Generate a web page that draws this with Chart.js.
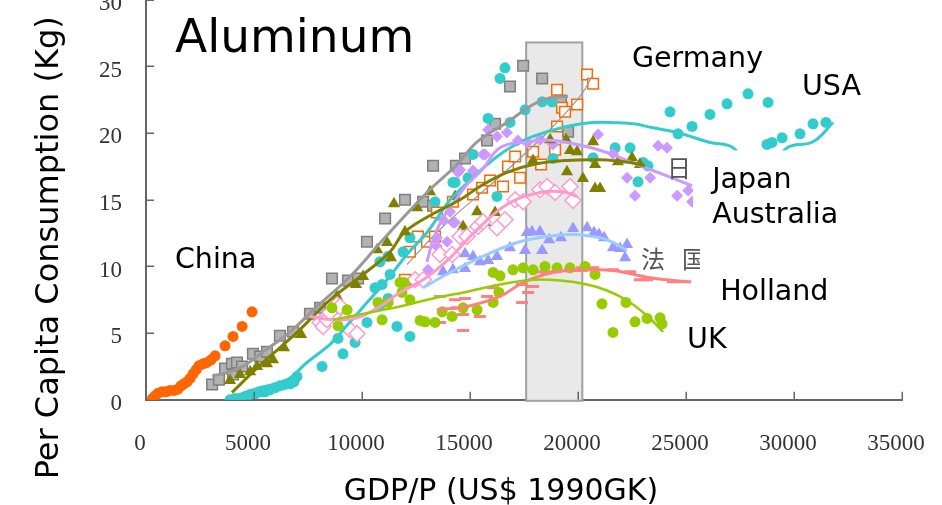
<!DOCTYPE html>
<html>
<head>
<meta charset="utf-8">
<script src="https://cdn.jsdelivr.net/npm/chart.js@4/dist/chart.umd.min.js"></script>
<style>
  html, body { margin: 0; padding: 0; background: #fff; overflow: hidden; }
  #wrap { position: relative; width: 942px; height: 505px; overflow: hidden; background: #fff; }
  #c { position: absolute; left: 0; top: 0; }
</style>
</head>
<body>
<div id="wrap"><canvas id="c" width="942" height="560"></canvas></div>
<script>
// ---- axis ticks ----
const gdpTicks = [0, 5000, 10000, 15000, 20000, 25000, 30000, 35000];
const kgTicks = [0, 5, 10, 15, 20, 25, 30];

// ---- shaded GDP band ----
const bandGdp = [17600, 20200];
const bandKg = [0, 26.8];

// ---- China ----
const chinaGdp = [300, 420, 560, 740, 930, 1110, 1300, 1480, 1620, 1760, 1900, 2040, 2180, 2320, 2450, 2640, 2820, 3010, 3200, 3660, 4030, 4450, 4910];
const chinaKg  = [0.1, 0.3, 0.5, 0.6, 0.6, 0.7, 0.7, 0.8, 1.05, 1.2, 1.35, 1.6, 1.95, 2.25, 2.55, 2.7, 2.8, 3.0, 3.3, 4.05, 4.75, 5.5, 6.6];

// ---- Germany (grey squares) ----
const gerGdp = [3060, 3380, 3660, 3980, 4030, 4210, 4450, 4950, 5280, 5600, 6200, 6810, 7590, 8060, 8610, 9350, 9820, 10230, 11070, 11990, 12830, 13290, 13290, 14350, 14770, 15790, 16160, 16850, 17460, 18340, 19210, 19540];
const gerKg  = [1.15, 1.5, 2.35, 2.7, 1.9, 2.8, 2.5, 3.45, 3.25, 3.6, 4.8, 5.1, 6.45, 6.9, 9.1, 8.95, 9.1, 11.85, 13.6, 15.0, 14.85, 14.55, 17.55, 17.55, 18.1, 19.45, 20.7, 23.5, 25.05, 24.1, 22.45, 20.1];
const gerFitGdp = [3060, 4350, 5420, 6670, 7920, 9450, 10970, 13010, 14400, 15330, 16710, 17920, 18710, 19540];
const gerFitKg  = [1.75, 2.4, 3.6, 5.1, 7.0, 9.25, 12.0, 15.55, 17.65, 19.35, 20.8, 22.15, 22.65, 22.75];

// ---- open orange squares ----
const sqGdp = [11990, 12220, 12590, 13010, 13380, 13470, 14210, 15140, 15560, 15930, 16530, 16760, 17090, 17320, 17920, 18290, 18940, 19030, 19030, 19260, 19400, 19960, 20420, 20700];
const sqKg  = [9.0, 11.1, 12.25, 11.85, 12.25, 14.05, 14.85, 15.4, 15.9, 16.45, 16.0, 17.5, 18.25, 16.65, 18.6, 17.65, 18.75, 20.5, 23.25, 21.9, 21.6, 22.15, 24.4, 23.7];
const sqFitGdp = [12080, 13750, 16390, 18570, 20090, 20700];
const sqFitKg  = [10.15, 13.0, 16.75, 20.05, 22.75, 24.4];

// ---- USA ----
const usaGdp = [3890, 4120, 4350, 4580, 4820, 5050, 5280, 5510, 5740, 5970, 6200, 6440, 6670, 6850, 6990, 8150, 8890, 9120, 9680, 10230, 10600, 10830, 10930, 10830, 11210, 11210, 11300, 11620, 11900, 12220, 12220, 13380, 14210, 14310, 14910, 15140, 15840, 16250, 16390, 16620, 16850, 17550, 18340, 18340, 18800, 18840, 20700, 21720, 22410, 22780, 23010, 23240, 24260, 24630, 25280, 26110, 26900, 27870, 28800, 28750, 28980, 29450, 30280, 30880, 31480];
const usaKg  = [0, 0.1, 0.1, 0.25, 0.4, 0.45, 0.6, 0.6, 0.75, 0.9, 1.05, 1.15, 1.2, 1.35, 1.75, 2.5, 4.6, 3.45, 4.3, 5.8, 8.4, 7.05, 8.65, 10.35, 7.6, 10.75, 9.4, 5.5, 11.1, 12.15, 4.75, 14.85, 16.3, 16.3, 16.65, 18.4, 21.1, 15.25, 24.1, 24.9, 20.8, 21.75, 22.35, 15.85, 22.35, 18.1, 18.15, 18.9, 18.9, 16.35, 17.8, 17.55, 21.6, 19.95, 20.5, 21.4, 22.2, 22.95, 22.3, 19.15, 19.3, 19.65, 19.95, 20.7, 20.8];
const usaFitGdp = [3890, 5280, 6530, 7450, 8520, 9210, 9910, 11160, 12080, 13010, 14080, 14770, 15700, 16710, 17920, 19490, 20700, 22550, 23470, 24590, 26110, 27180, 28430, 29680, 30880, 31810];
const usaFitKg  = [0.15, 0.9, 1.5, 2.8, 4.15, 5.4, 6.7, 9.0, 10.9, 12.55, 15.0, 16.1, 17.5, 18.75, 19.75, 20.5, 20.8, 20.7, 20.4, 20.05, 19.3, 18.9, 16.5, 18.9, 19.35, 20.8];

// ---- Japan ----
const japGdp = [13060, 13470, 13470, 13750, 13940, 14080, 14210, 14310, 14450, 14540, 15140, 15600, 15700, 15840, 16250, 16710, 17220, 17640, 18240, 18840, 20930, 21620, 22270, 22640, 23340, 23710, 24120, 24590, 25100, 25280];
const japKg  = [9.75, 11.5, 12.15, 13.5, 11.85, 14.1, 13.3, 13.3, 17.05, 17.25, 17.2, 18.4, 18.4, 20.25, 19.75, 20.05, 19.45, 19.3, 19.5, 19.15, 19.9, 18.45, 16.65, 15.3, 16.65, 19.05, 18.9, 15.3, 15.7, 14.85];
const japFitGdp = [13010, 13290, 13750, 14400, 14860, 15560, 16390, 17640, 18840, 20230, 21340, 22410, 23200, 24120, 25280];
const japFitKg  = [10.35, 12.0, 13.65, 15.15, 16.15, 17.25, 18.9, 19.35, 19.45, 19.05, 18.55, 17.85, 17.35, 16.8, 16.05];

// ---- Australia ----
const ausGdp = [3890, 4350, 4820, 5140, 5600, 5880, 6390, 7180, 8840, 9720, 10050, 10700, 11160, 11340, 11990, 11480, 12550, 13150, 14310, 14680, 15330, 15700, 16160, 17920, 18710, 19450, 19630, 19960, 19490, 20230, 20700, 20790, 20790, 21020, 21850, 22500, 22870];
const ausKg  = [1.45, 1.9, 2.1, 2.5, 2.7, 3.0, 3.9, 4.9, 7.75, 8.65, 9.25, 11.25, 11.8, 10.65, 12.6, 14.7, 14.4, 15.6, 15.25, 13.0, 14.1, 13.3, 14.05, 17.95, 19.5, 19.5, 18.7, 18.6, 17.1, 16.6, 19.35, 17.65, 15.85, 15.85, 17.85, 18.15, 17.65];
const ausFitGdp = [3980, 5420, 6990, 8520, 10050, 11300, 11950, 13290, 14540, 15460, 16710, 17920, 19490, 21020, 22410, 23100];
const ausFitKg  = [0.55, 2.8, 5.05, 7.5, 9.4, 11.1, 12.55, 13.95, 15.0, 16.0, 17.05, 17.65, 17.95, 18.0, 17.8, 17.55];

// ---- open pink diamonds ----
const pinkGdp = [8060, 8200, 8380, 8520, 8840, 8980, 9210, 9450, 9770, 12460, 12830, 13610, 14170, 14540, 14860, 15370, 15600, 16250, 16620, 17090, 17460, 18240, 18570, 18940, 19630, 19770];
const pinkKg  = [5.8, 5.5, 6.0, 6.55, 7.15, 7.0, 6.0, 5.25, 4.95, 9.0, 9.0, 10.9, 10.9, 12.25, 12.25, 13.0, 13.35, 12.9, 13.5, 15.0, 14.85, 15.75, 16.0, 15.55, 16.0, 14.95];
const pinkFitGdp = [7590, 8660, 9770, 10830, 11760, 12830, 14080, 15230, 16710, 18240, 19310, 19960];
const pinkFitKg  = [6.25, 6.0, 6.15, 7.0, 8.05, 9.0, 10.65, 12.6, 14.65, 15.55, 15.6, 15.25];

// ---- France ----
const fraGdp = [13750, 14210, 14770, 14770, 15140, 15460, 15840, 16250, 16850, 17550, 17640, 17870, 18240, 18340, 18660, 19210, 19770, 20420, 20740, 20970, 21210, 21620, 21950, 22270, 22180];
const fraKg  = [9.6, 9.75, 9.85, 10.95, 10.75, 10.35, 10.45, 10.75, 11.4, 11.2, 12.55, 12.6, 12.6, 11.2, 12.0, 12.15, 12.85, 12.9, 12.55, 12.4, 12.15, 11.4, 11.35, 11.65, 10.65];
const fraFitGdp = [12830, 14080, 15600, 17180, 18570, 19770, 21020, 21620, 22270];
const fraFitKg  = [8.4, 9.55, 10.75, 11.8, 12.25, 12.4, 12.15, 11.8, 11.2];

// ---- Holland ----
const holGdp = [13610, 13610, 14310, 14400, 14770, 14680, 14680, 15460, 15790, 16070, 17410, 17410, 17690, 17920, 18340, 18570, 18940, 19630, 20190, 20700, 21620, 22410, 22870, 23200, 24400, 24960];
const holKg  = [7.75, 5.8, 7.5, 6.9, 7.6, 6.4, 5.2, 6.25, 7.75, 8.4, 7.3, 8.65, 8.05, 8.5, 9.6, 9.55, 9.6, 9.75, 9.9, 9.9, 9.75, 9.6, 9.0, 9.0, 8.85, 8.85];
const holFitGdp = [13470, 14860, 16390, 17460, 18840, 20090, 21620, 23340, 25050];
const holFitKg  = [6.75, 7.0, 7.75, 8.8, 9.55, 9.7, 9.7, 9.15, 8.85];

// ---- UK ----
const ukGdp = [8610, 8890, 9310, 10740, 10930, 11210, 11760, 11950, 11850, 12220, 12690, 12920, 13380, 13710, 14170, 14680, 15330, 16070, 16070, 16390, 16340, 16990, 17460, 17920, 18470, 19030, 19630, 20330, 20790, 21110, 21620, 22220, 22640, 23200, 23800, 23890];
const ukKg  = [6.9, 5.55, 6.75, 7.3, 6.0, 7.3, 8.8, 8.8, 8.05, 7.5, 5.95, 5.85, 5.8, 6.6, 6.25, 6.9, 6.75, 9.55, 7.3, 9.3, 8.05, 9.75, 9.9, 9.75, 10.0, 9.9, 9.9, 10.0, 9.4, 7.2, 5.05, 7.3, 5.85, 6.1, 6.15, 5.7];
const ukFitGdp = [8660, 10370, 11760, 13290, 14860, 16390, 17920, 19170, 20420, 21340, 22270, 23200, 23940];
const ukFitKg  = [6.0, 6.55, 7.0, 7.6, 8.1, 8.65, 9.0, 8.95, 8.65, 8.2, 7.45, 6.3, 5.1];

// ---- text placed in data space ----
const countryNotes = [
  { text: 'Germany',   gdp: 22500, kg: 24.98 },
  { text: 'USA',       gdp: 30370, kg: 22.88 },
  { text: 'Japan',     gdp: 26210, kg: 15.9 },
  { text: 'Australia', gdp: 26210, kg: 13.28 },
  { text: 'China',     gdp: 1340,  kg: 9.9 },
  { text: 'Holland',   gdp: 26580, kg: 7.5 },
  { text: 'UK',        gdp: 25050, kg: 3.9 }
];
const cjkNotes = [
  { text: '日', gdp: 24680, kg: 17.4 },
  { text: '法', gdp: 23470, kg: 10.58 },
  { text: '国', gdp: 25370, kg: 10.58 }
];
// white backing panels behind the right-hand country names
const notePanels = [
  { gdp: [25330, 31350], kg: [12.6, 18.7] },
  { gdp: [25650, 31900], kg: [6.7, 11.6] }
];

// plot-area placement inside the 942x505 view
const PLOT = { left: 146, right: 902, top: 0, bottom: 400 };
const place = { xHeight: 105 };

const zip = (xs, ys) => xs.map((x, i) => ({ x, y: ys[i] }));

function markers(label, xs, ys, style, order) {
  return Object.assign({ label, data: zip(xs, ys), showLine: false, order }, style);
}
function trend(label, xs, ys, color, width, order) {
  return {
    label, data: zip(xs, ys), showLine: true, tension: 0.4,
    borderColor: color, borderWidth: width, pointRadius: 0, fill: false, order
  };
}

const datasets = [
  trend('UK fit', ukFitGdp, ukFitKg, '#99CC00', 2.5, 1),
  trend('Holland fit', holFitGdp, holFitKg, '#FF8080', 3, 2),
  trend('France fit', fraFitGdp, fraFitKg, '#99CCFF', 3, 3),
  trend('Pink fit', pinkFitGdp, pinkFitKg, '#FF99CC', 3, 4),
  trend('Australia fit', ausFitGdp, ausFitKg, '#808000', 3, 5),
  trend('Japan fit', japFitGdp, japFitKg, '#CC99FF', 3, 6),
  trend('USA fit', usaFitGdp, usaFitKg, '#33CCCC', 3, 7),
  trend('Square fit', sqFitGdp, sqFitKg, '#999999', 1.2, 8),
  trend('Germany fit', gerFitGdp, gerFitKg, '#999999', 3, 9),

  markers('UK', ukGdp, ukKg, { pointStyle: 'circle', pointRadius: 5.5, pointBackgroundColor: '#99CC00', pointBorderColor: '#99CC00', pointBorderWidth: 0 }, 10),
  markers('Holland', holGdp, holKg, { pointStyle: 'line', pointRadius: 6, pointBorderColor: '#FF8080', pointBorderWidth: 3 }, 11),
  markers('France', fraGdp, fraKg, { pointStyle: 'triangle', pointRadius: 7, pointBackgroundColor: '#9999FF', pointBorderColor: '#9999FF', pointBorderWidth: 0 }, 12),
  markers('Pink', pinkGdp, pinkKg, { pointStyle: 'rectRot', pointRadius: 8, pointBackgroundColor: '#FFFFFF', pointBorderColor: '#FF99CC', pointBorderWidth: 1.5 }, 13),
  markers('Australia', ausGdp, ausKg, { pointStyle: 'triangle', pointRadius: 7, pointBackgroundColor: '#808000', pointBorderColor: '#808000', pointBorderWidth: 0 }, 14),
  markers('Japan', japGdp, japKg, { pointStyle: 'rectRot', pointRadius: 6, pointBackgroundColor: '#CC99FF', pointBorderColor: '#CC99FF', pointBorderWidth: 0 }, 15),
  markers('USA', usaGdp, usaKg, { pointStyle: 'circle', pointRadius: 5.5, pointBackgroundColor: '#33CCCC', pointBorderColor: '#33CCCC', pointBorderWidth: 0 }, 16),
  markers('Squares', sqGdp, sqKg, { pointStyle: 'rect', pointRadius: 7.5, pointBackgroundColor: '#FFFFFF', pointBorderColor: '#FF6600', pointBorderWidth: 1.5 }, 17),
  markers('Germany', gerGdp, gerKg, { pointStyle: 'rect', pointRadius: 7.5, pointBackgroundColor: '#B2B2B2', pointBorderColor: '#7F7F7F', pointBorderWidth: 1.5 }, 18),
  markers('China', chinaGdp, chinaKg, { pointStyle: 'circle', pointRadius: 5.5, pointBackgroundColor: '#FF6600', pointBorderColor: '#FF6600', pointBorderWidth: 0 }, 19)
];

// shaded band behind the series
const bandPlugin = {
  id: 'band',
  beforeDatasetsDraw(chart) {
    const { ctx, scales: { x, y } } = chart;
    const x0 = x.getPixelForValue(bandGdp[0]);
    const x1 = x.getPixelForValue(bandGdp[1]);
    const y0 = y.getPixelForValue(bandKg[0]);
    const y1 = y.getPixelForValue(bandKg[1]);
    ctx.save();
    ctx.fillStyle = '#E9E9E9';
    ctx.fillRect(x0, y1, x1 - x0, y0 - y1 + 1);
    ctx.strokeStyle = '#A0A0A0';
    ctx.lineWidth = 2;
    ctx.strokeRect(x0, y1, x1 - x0, y0 - y1 + 1);
    ctx.restore();
  }
};

// inward tick marks on both axes
const innerTicks = {
  id: 'innerTicks',
  afterDatasetsDraw(chart) {
    const { ctx, chartArea: a, scales: { x, y } } = chart;
    ctx.save();
    ctx.strokeStyle = '#666';
    ctx.lineWidth = 1.5;
    ctx.beginPath();
    x.ticks.forEach(t => {
      if (t.value === 0) return;
      const px = Math.round(x.getPixelForValue(t.value)) + 0.25;
      ctx.moveTo(px, a.bottom);
      ctx.lineTo(px, a.bottom - 8);
    });
    y.ticks.forEach(t => {
      if (t.value === 0) return;
      const py = Math.round(y.getPixelForValue(t.value)) + 0.25;
      ctx.moveTo(a.left, py);
      ctx.lineTo(a.left + 8, py);
    });
    ctx.stroke();
    ctx.restore();
  }
};

// titles, country names and their panels
const textPlugin = {
  id: 'texts',
  afterDraw(chart) {
    const { ctx, chartArea: a, scales: { x, y } } = chart;
    ctx.save();
    ctx.textBaseline = 'middle';
    ctx.textAlign = 'center';
    ctx.fillStyle = '#555';
    ctx.font = '24px "Noto Sans CJK SC"';
    cjkNotes.forEach(n => ctx.fillText(n.text, x.getPixelForValue(n.gdp), y.getPixelForValue(n.kg)));

    ctx.fillStyle = '#FFFFFF';
    notePanels.forEach(p => {
      const x0 = x.getPixelForValue(p.gdp[0]), x1 = x.getPixelForValue(p.gdp[1]);
      const y0 = y.getPixelForValue(p.kg[1]), y1 = y.getPixelForValue(p.kg[0]);
      ctx.fillRect(x0, y0, x1 - x0, y1 - y0);
    });

    ctx.fillStyle = '#000';
    ctx.textAlign = 'left';
    ctx.textBaseline = 'alphabetic';
    ctx.font = '28.5px "DejaVu Sans"';
    countryNotes.forEach(n => ctx.fillText(n.text, x.getPixelForValue(n.gdp), y.getPixelForValue(n.kg)));

    ctx.font = '47px "DejaVu Sans"';
    ctx.fillText('Aluminum', a.left + 29, a.top + 52);

    ctx.textAlign = 'center';
    ctx.font = '30px "DejaVu Sans"';
    ctx.fillText('GDP/P (US$ 1990GK)', a.left + 355, a.bottom + 100);

    ctx.translate(a.left - 88, a.top + 248);
    ctx.rotate(-Math.PI / 2);
    ctx.font = '32px "DejaVu Sans"';
    ctx.fillText('Per Capita Consumption (Kg)', 0, 0);
    ctx.restore();
  }
};

const tickFont = { family: '"Liberation Serif", "DejaVu Serif", serif', size: 23 };
const canvas = document.getElementById('c');

// label gaps come from invisible tick marks so they do not widen the side margins
const chart = new Chart(canvas, {
  type: 'scatter',
  data: { datasets },
  options: {
    responsive: false,
    animation: false,
    events: [],
    layout: { padding: { top: 0, right: 40, left: 0, bottom: 0 } },
    plugins: { legend: { display: false }, tooltip: { enabled: false }, title: { display: false } },
    scales: {
      x: {
        type: 'linear', min: 0, max: 35000,
        afterBuildTicks: s => { s.ticks = gdpTicks.map(v => ({ value: v })); },
        afterFit: s => { s.height = place.xHeight; },
        ticks: { padding: 0, labelOffset: -6, color: '#333', font: tickFont, maxRotation: 0, autoSkip: false, callback: v => String(v) },
        grid: { display: true, drawOnChartArea: false, drawTicks: true, tickLength: 30, tickColor: 'rgba(0,0,0,0)' },
        border: { display: true, color: '#666', width: 2 }
      },
      y: {
        type: 'linear', min: 0, max: 30,
        afterBuildTicks: s => { s.ticks = kgTicks.map(v => ({ value: v })); },
        afterFit: s => { s.width = PLOT.left; },
        ticks: { padding: 0, labelOffset: 4, color: '#333', font: tickFont, autoSkip: false, callback: v => String(v) },
        grid: { display: true, drawOnChartArea: false, drawTicks: true, tickLength: 24, tickColor: 'rgba(0,0,0,0)' },
        border: { display: true, color: '#666', width: 2 }
      }
    }
  },
  plugins: [bandPlugin, innerTicks, textPlugin]
});

// settle the plot area: the top tick label is allowed to run off the top edge
for (let pass = 0; pass < 3; pass++) {
  const a = chart.chartArea;
  const pad = chart.options.layout.padding;
  pad.right = Math.max(0, pad.right + (a.right - PLOT.right));
  place.xHeight += (a.bottom - a.top) - (PLOT.bottom - PLOT.top);
  chart.update();
}
canvas.style.top = (PLOT.top - Math.round(chart.chartArea.top)) + 'px';
</script>
</body>
</html>
